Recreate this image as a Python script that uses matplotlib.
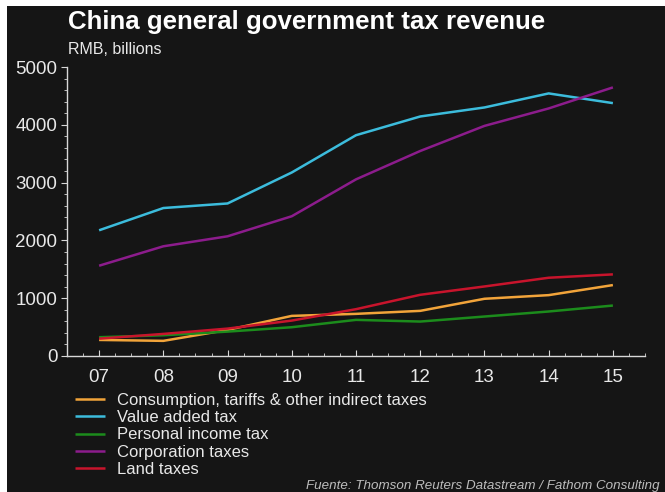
import numpy as np
import matplotlib
matplotlib.use("Agg")
import matplotlib.pyplot as plt
from matplotlib.patches import Rectangle
from matplotlib.ticker import MultipleLocator

years = ['07', '08', '09', '10', '11', '12', '13', '14', '15']

consumption = [278, 262, 451, 694, 729, 781, 990, 1053, 1227]
vat = [2175, 2560, 2639, 3175, 3820, 4144, 4300, 4543, 4375]
personal = [325, 359, 422, 498, 625, 596, 683, 770, 873]
corporation = [1562, 1898, 2071, 2418, 3056, 3547, 3981, 4283, 4647]
land = [300, 382, 474, 613, 810, 1059, 1203, 1354, 1412]

series = [
    ("Consumption, tariffs & other indirect taxes", consumption, "#f2a43a"),
    ("Value added tax", vat, "#3cbcdc"),
    ("Personal income tax", personal, "#1c8c1c"),
    ("Corporation taxes", corporation, "#8c1c8c"),
    ("Land taxes", land, "#c8142c"),
]

bg = "#151515"
fg = "#e8e8e8"
plt.rcParams['font.family'] = ['Liberation Sans', 'DejaVu Sans']

fig = plt.figure(figsize=(6.65, 4.92), dpi=100, facecolor="white")
# dark panel with a thin white strip at left and top
fig.patches.append(Rectangle((7 / 665, 0), 1, 1 - 6 / 492, transform=fig.transFigure,
                             facecolor=bg, edgecolor="none", zorder=-10))

ax = fig.add_axes([67 / 665, 1 - 356 / 492, (645 - 67) / 665, (356 - 67) / 492])
ax.set_facecolor(bg)

x = np.arange(len(years))
for name, vals, col in series:
    ax.plot(x, vals, color=col, lw=1.8, label=name, solid_capstyle='butt')

ax.set_xlim(-0.5, 8.5)
ax.set_ylim(0, 5000)
ax.set_xticks(x)
ax.set_xticklabels(years)
ax.xaxis.set_minor_locator(MultipleLocator(0.25))
ax.set_yticks([0, 1000, 2000, 3000, 4000, 5000])
ax.yaxis.set_minor_locator(MultipleLocator(200))

for s in ['top', 'right']:
    ax.spines[s].set_visible(False)
for s in ['left', 'bottom']:
    ax.spines[s].set_color("#d8d8d8")
    ax.spines[s].set_linewidth(1.0)

ax.tick_params(axis='x', which='major', direction='in', length=4, color="#d8d8d8",
               labelcolor=fg, labelsize=13.5, pad=9)
ax.tick_params(axis='x', which='minor', direction='in', length=2.5, color="#d8d8d8")
ax.tick_params(axis='y', which='major', direction='out', length=4, color="#d8d8d8",
               labelcolor=fg, labelsize=13.5, pad=3)
ax.tick_params(axis='y', which='minor', direction='out', length=2.5, color="#d8d8d8")

fig.text(68 / 665, 1 - 22 / 492, "China general government tax revenue", color="white",
         fontsize=18.6, fontweight='bold', va='center', ha='left')
fig.text(68 / 665, 1 - 50 / 492, "RMB, billions", color=fg, fontsize=11.5,
         va='center', ha='left')

leg = ax.legend(loc='upper left', bbox_to_anchor=(75 / 665, 1 - 393 / 492),
                bbox_transform=fig.transFigure, frameon=False, fontsize=12.0,
                handlelength=1.8, handletextpad=0.7, labelspacing=0.13,
                borderaxespad=0, borderpad=0)
for t in leg.get_texts():
    t.set_color(fg)

fig.text(660 / 665, 1 - 486 / 492,
         "Fuente: Thomson Reuters Datastream / Fathom Consulting",
         color="#bdbdbd", fontsize=9.6, style='italic', ha='right', va='center')

fig.savefig("out.png", dpi=100, facecolor=fig.get_facecolor())
